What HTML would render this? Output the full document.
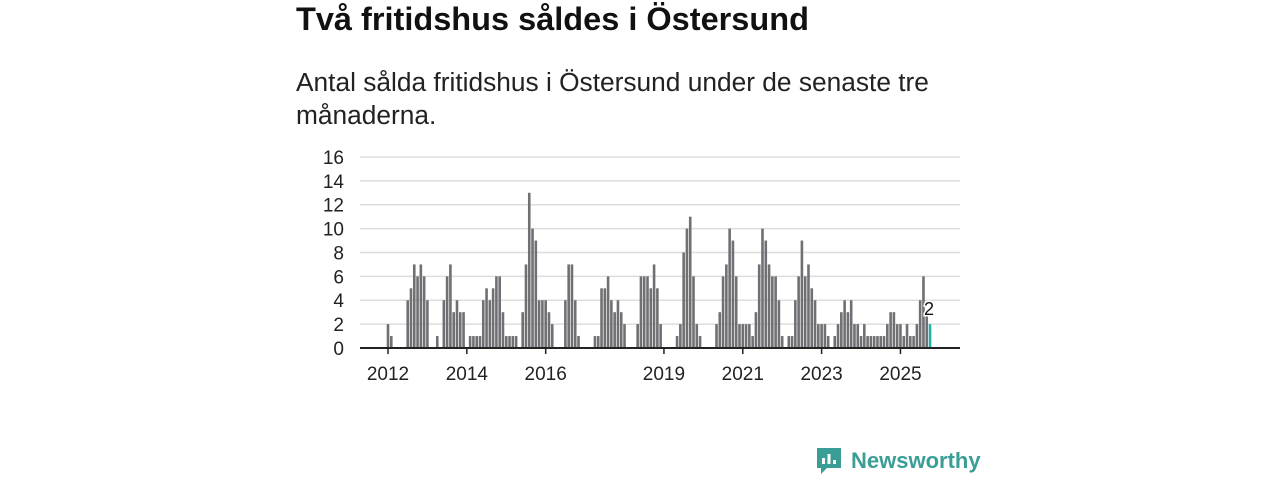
<!DOCTYPE html>
<html><head><meta charset="utf-8"><style>
body{margin:0;width:1280px;height:480px;background:#fff;font-family:"Liberation Sans",sans-serif;overflow:hidden;position:relative}
h1{position:absolute;left:296px;top:1px;margin:0;font-size:32.5px;font-weight:bold;color:#111}
p.sub{position:absolute;left:296px;top:66px;margin:0;font-size:26.3px;line-height:33px;color:#222;width:700px}
svg{position:absolute;left:0;top:0}
.logo{position:absolute;left:815px;top:446px;display:flex;align-items:center;color:#3a9e96;font-size:22px;font-weight:bold}
</style></head><body>
<h1>Två fritidshus såldes i Östersund</h1>
<p class="sub">Antal sålda fritidshus i Östersund under de senaste tre månaderna.</p>
<svg id="chart" width="1280" height="480"></svg>
<div class="logo">
<svg style="position:static" width="28" height="30" viewBox="0 0 28 30"><path d="M2 2h24v20H12l-6 6v-6H2z" fill="#3a9e96"/><rect x="7" y="12" width="3" height="6" fill="#fff"/><rect x="12.5" y="8" width="3" height="10" fill="#fff"/><rect x="18" y="14" width="3" height="4" fill="#fff"/></svg>
<span style="margin-left:8px">Newsworthy</span></div>
<script>
const startYear = 2012;
const values = [2,1,0,0,0,0,4,5,7,6,7,6,4,0,0,1,0,4,6,7,3,4,3,3,
0,1,1,1,1,4,5,4,5,6,6,3,1,1,1,1,0,3,7,13,10,9,4,4,
4,3,2,0,0,0,4,7,7,4,1,0,0,0,0,1,1,5,5,6,4,3,4,3,
2,0,0,0,2,6,6,6,5,7,5,2,0,0,0,0,1,2,8,10,11,6,2,1,
0,0,0,0,2,3,6,7,10,9,6,2,2,2,2,1,3,7,10,9,7,6,6,4,
1,0,1,1,4,6,9,6,7,5,4,2,2,2,1,0,1,2,3,4,3,4,2,2,
1,2,1,1,1,1,1,1,2,3,3,2,2,1,2,1,1,2,4,6,3,2];
const yTicks = [0,2,4,6,8,10,12,14,16];
const xTickYears = [2012,2014,2016,2019,2021,2023,2025];
const ns="http://www.w3.org/2000/svg", svg=document.getElementById('chart');
const x0=388, step=3.285, yBase=348, yScale=11.94;
const xs=i=>x0+i*step, ys=v=>yBase-v*yScale;
function mk(t,a){const e=document.createElementNS(ns,t);for(const k in a)e.setAttribute(k,a[k]);svg.appendChild(e);return e;}
yTicks.forEach(t=>{
 if(t>0){const g=mk('line',{x1:360,x2:960,y1:ys(t),y2:ys(t),stroke:'#ddd','stroke-width':1.5});
 
 }
 const l=mk('text',{x:344,y:ys(t)+7,'text-anchor':'end','font-size':19,fill:'#222','font-family':'Liberation Sans'});
 l.textContent=t;
 
 
});
values.forEach((v,i)=>{
 if(v<=0)return;
 const last=i===values.length-1;
 const r=mk('rect',{x:xs(i)-1.3,y:ys(v),width:2.6,height:v*yScale,fill:last?'#20b2aa':'#707074'});
 
 
});
const ax=mk('line',{x1:360,x2:960,y1:yBase,y2:yBase,stroke:'#222','stroke-width':2});


xTickYears.forEach(y=>{
 const x=xs((y-startYear)*12);
 const t=mk('line',{x1:x,x2:x,y1:yBase,y2:yBase+6,stroke:'#222','stroke-width':1.5});
 
 
 const l=mk('text',{x:x,y:380,'text-anchor':'middle','font-size':19,fill:'#222','font-family':'Liberation Sans'});
 l.textContent=y;
 
 
});
const li=values.length-1;
const lab=mk('text',{x:xs(li)-1,y:ys(values[li])-9,'text-anchor':'middle','font-size':18,fill:'#111',stroke:'#fff','stroke-width':3,'paint-order':'stroke','font-family':'Liberation Sans'});
lab.textContent=values[li];


</script>
</body></html>
